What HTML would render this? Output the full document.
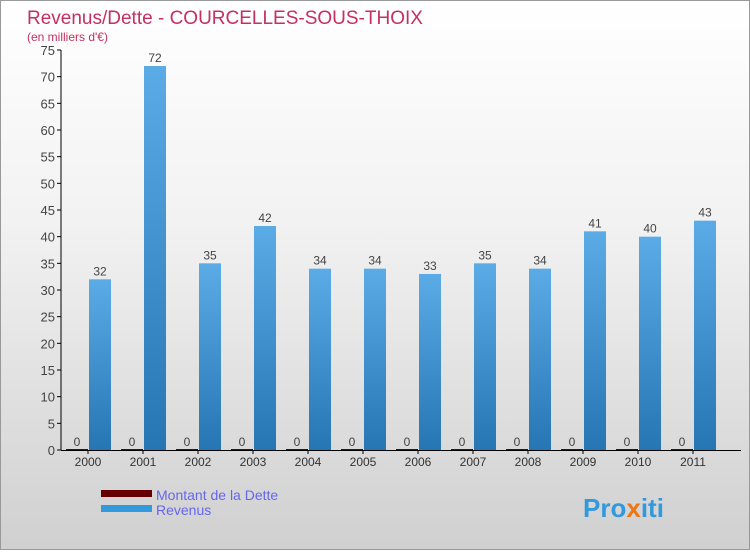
<!DOCTYPE html>
<html><head><meta charset="utf-8"><style>
body{margin:0;width:750px;height:550px;overflow:hidden;font-family:"Liberation Sans",sans-serif}
#wrap{position:relative;width:748px;height:548px;border:1px solid #999;background:linear-gradient(#ffffff,#f2f2f2 40%,#d0d0d0)}
</style></head><body>
<div id="wrap">
<svg id="svg" width="748" height="548">
<text x="26" y="23" font-size="19" fill="#c4305f">Revenus/Dette - COURCELLES-SOUS-THOIX</text>
<text x="26" y="40" font-size="12" fill="#c4305f">(en milliers d'€)</text>
<g id="plot"></g>
<rect x="100" y="489" width="51" height="7" fill="#660000"/>
<text x="155" y="499" font-size="14" fill="#6666ee">Montant de la Dette</text>
<rect x="100" y="504" width="51" height="7" fill="#3399dd"/>
<text x="155" y="514" font-size="14" fill="#6666ee">Revenus</text>
<text x="582" y="516" font-size="26" font-weight="bold" fill="#3399dd">Pro<tspan fill="#ee7711">x</tspan>iti</text>
</svg>
</div>
<script>
const categories=["2000","2001","2002","2003","2004","2005","2006","2007","2008","2009","2010","2011"];
const revenus=[32,72,35,42,34,34,33,35,34,41,40,43];
const dette=[0,0,0,0,0,0,0,0,0,0,0,0];
const yTicks=[0,5,10,15,20,25,30,35,40,45,50,55,60,65,70,75];
const NS="http://www.w3.org/2000/svg";
const g=document.getElementById('plot');
const y0=449,yTop=49,yMax=75,x0=60,step=55;
const y=v=>y0-(v/yMax)*(y0-yTop);
const gx=i=>x0+step*i;
function mk(t,a){const e=document.createElementNS(NS,t);for(const k in a)e.setAttribute(k,a[k]);g.appendChild(e);return e;}
const defs=mk('defs',{});
defs.innerHTML='<linearGradient id="bg" x1="0" y1="0" x2="0" y2="1"><stop offset="0" stop-color="#5aabe6"/><stop offset="1" stop-color="#2576b3"/></linearGradient>';
yTicks.forEach(t=>{
 const l=mk('line',{x1:x0-4,x2:x0,y1:y(t),y2:y(t),stroke:'#000'});
 
 
 const tx=mk('text',{x:x0-6,y:y(t)+5,'font-size':13,fill:'#444','text-anchor':'end'});
 tx.textContent=t;
 
 
});
categories.forEach((c,i)=>{
 const bx=gx(i)+27;
 const d=mk('rect',{x:bx-22,y:y(dette[i])-1,width:22,height:Math.max(1,y0-y(dette[i])),fill:'#660000'});
 
 
 const dl=mk('text',{x:bx-11,y:y(dette[i])-4,'font-size':12,fill:'#444','text-anchor':'middle'});
 dl.textContent=dette[i];
 
 
 const r=mk('rect',{x:bx+1,y:y(revenus[i]),width:22,height:y0-y(revenus[i]),fill:'url(#bg)'});
 
 
 const rl=mk('text',{x:bx+12,y:y(revenus[i])-4,'font-size':12,fill:'#444','text-anchor':'middle'});
 rl.textContent=revenus[i];
 
 
 const tk=mk('line',{x1:bx,x2:bx,y1:y0,y2:y0+4,stroke:'#000'});
 
 
 const xl=mk('text',{x:bx,y:y0+16,'font-size':12,fill:'#333','text-anchor':'middle'});
 xl.textContent=c;
 
 
});
const ax=mk('line',{x1:x0,x2:x0,y1:yTop,y2:y0,stroke:'#000'});


const bx2=mk('line',{x1:x0,x2:740,y1:y0+0.5,y2:y0+0.5,stroke:'#000'});


</script>
</body></html>
